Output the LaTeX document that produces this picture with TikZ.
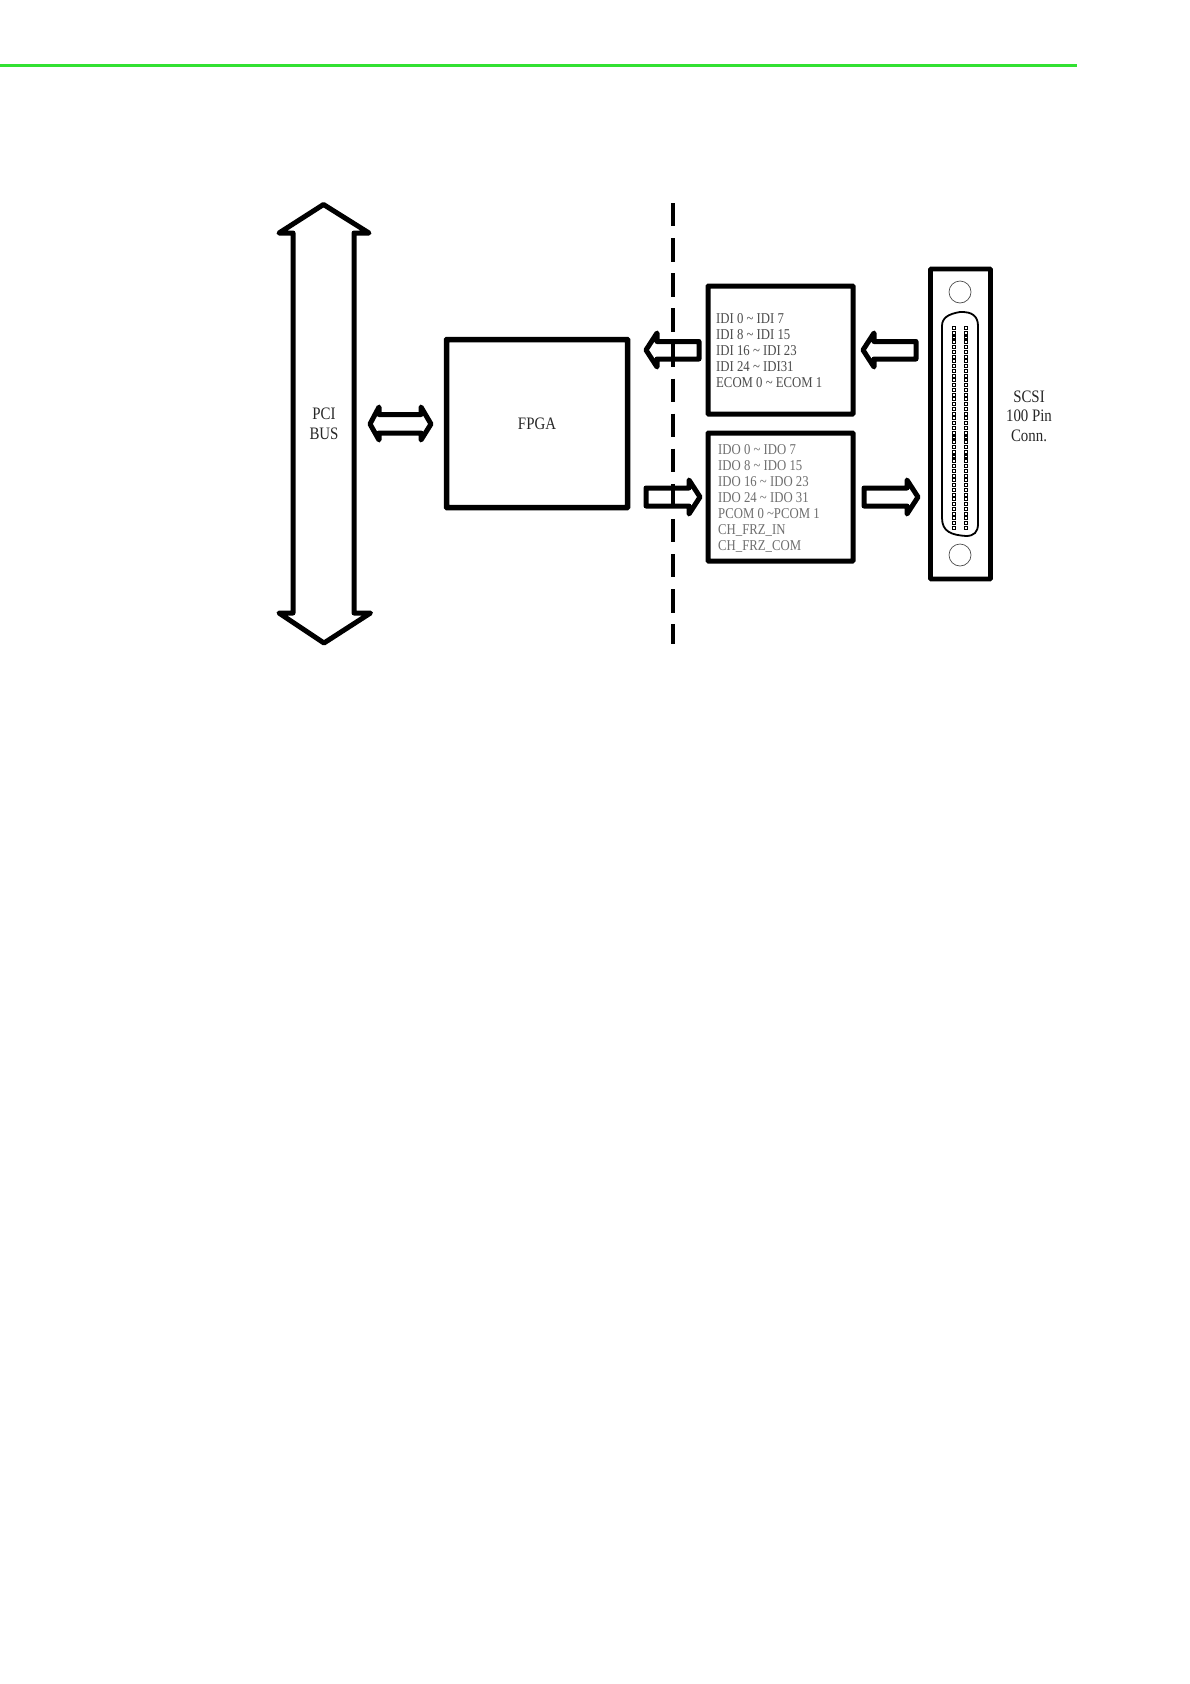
\documentclass[tikz,border=0pt]{standalone}
\usepackage{fontspec}
\setmainfont{Liberation Serif}
\newfontfamily\narrowserif[FakeStretch=0.85]{Liberation Serif}
\definecolor{rulegreen}{RGB}{50,225,50}
\definecolor{lbl}{RGB}{75,75,75}
\definecolor{lblb}{RGB}{110,110,110}
\tikzset{
  box/.style={draw=black,line width=5pt,fill=none,rounded corners=0.6pt,inner sep=0pt,outer sep=0pt,anchor=north west},
  blockarrow/.style={draw=black,line width=5pt,fill=white,line join=round,line cap=round},
  bigarrow/.style={draw=black,line width=5pt,line join=round,line cap=round},
  divider/.style={draw=black,line width=3.8pt,dash pattern=on 23.4pt off 11.7pt},
  hole/.style={draw=black!70,line width=.7pt,circle,minimum size=22pt,inner sep=0pt},
  pin/.style={draw=black,line width=1.1pt},
  lista/.style={inner sep=0pt,anchor=base west,text=lbl,font=\narrowserif\fontsize{15}{16}\selectfont},
  listb/.style={inner sep=0pt,anchor=base west,text=lblb,font=\narrowserif\fontsize{15}{16}\selectfont},
  caption/.style={inner sep=0pt,anchor=base,text=black!85,font=\narrowserif\fontsize{17.5}{19}\selectfont}
}
\begin{document}
\begin{tikzpicture}[x=1pt,y=-1pt]
\useasboundingbox (0,0) rectangle (1190,1684);
% top rule
\coordinate (ruleL) at (0,65.7);
\coordinate (ruleR) at (1077,65.7);
\draw[rulegreen,line width=2.8pt] (ruleL) -- (ruleR);
% PCI bus arrow
\draw[bigarrow] (293,233) -- (279,233) -- (323.5,204.5) -- (369,233) -- (354,233)
  -- (354,613) -- (370.5,613) -- (324,643) -- (279,613) -- (293,613) -- cycle;
\node[caption] (pci) at (324,419) {PCI};
\node[caption] (bus) at (324,439) {BUS};
% PCI <-> FPGA
\draw[blockarrow] (370,424) -- (379,407) -- (379,414.5) -- (421,414.5) -- (421,407) -- (431,424)
  -- (421,440) -- (421,433) -- (379,433) -- (379,440) -- cycle;
% FPGA
\node[box,line width=5.5pt,minimum width=181pt,minimum height=168pt] (fpga) at (446.5,339.5) {};
\node[caption] (fpgatxt) at (537,429) {FPGA};
% small arrows
\draw[blockarrow] (646,350) -- (657,333) -- (657,341.5) -- (699,341.5) -- (699,359) -- (657,359) -- (657,367) -- cycle;
\draw[blockarrow] (700,497) -- (689,480) -- (689,488) -- (646,488) -- (646,506) -- (689,506) -- (689,514) -- cycle;
\draw[blockarrow] (863,350) -- (874,333) -- (874,341.5) -- (916,341.5) -- (916,359) -- (874,359) -- (874,367) -- cycle;
\draw[blockarrow] (918,497) -- (907,480) -- (907,488) -- (864,488) -- (864,506) -- (907,506) -- (907,514) -- cycle;
% isolation divider
\coordinate (divT) at (673,203);
\coordinate (divB) at (673,644);
\draw[divider] (divT) -- (divB);
% input / output boxes
\node[box,minimum width=145pt,minimum height=128pt] (inbox) at (708,286) {};
\node[box,minimum width=145pt,minimum height=128pt] (outbox) at (708,433) {};
\node[lista] (i1) at (716,323) {IDI 0 \char`\~\ IDI 7};
\node[lista] (i2) at (716,339) {IDI 8 \char`\~\ IDI 15};
\node[lista] (i3) at (716,355) {IDI 16 \char`\~\ IDI 23};
\node[lista] (i4) at (716,371) {IDI 24 \char`\~\ IDI31};
\node[lista] (i5) at (716,387) {ECOM 0 \char`\~\ ECOM 1};
\node[listb] (o1) at (718,454) {IDO 0 \char`\~\ IDO 7};
\node[listb] (o2) at (718,470) {IDO 8 \char`\~\ IDO 15};
\node[listb] (o3) at (718,486) {IDO 16 \char`\~\ IDO 23};
\node[listb] (o4) at (718,502) {IDO 24 \char`\~\ IDO 31};
\node[listb] (o5) at (718,518) {PCOM 0 \char`\~PCOM 1};
\node[listb] (o6) at (718,534) {CH\_FRZ\_IN};
\node[listb] (o7) at (718,550) {CH\_FRZ\_COM};
% connector
\node[box,line width=4.6pt,minimum width=60pt,minimum height=310pt] (conn) at (930.5,269) {};
\node[hole] (h1) at (960,292) {};
\node[hole] (h2) at (960,555) {};
\draw[black,line width=1.8pt] (942,326) .. controls (942,318) and (948,314) .. (960,312)
  .. controls (972,311.5) and (978,316) .. (978,326)
  -- (978,524) .. controls (978,532) and (974,536) .. (966,536)
  .. controls (952,535) and (942,532) .. (942,518) -- cycle;
\foreach \k in {0,...,42}{
  \pgfmathsetmacro{\py}{328+\k*4.76}
  \draw[pin] (952.5,\py-1.5) rectangle (955.5,\py+1.5);
  \draw[pin] (964.5,\py-1.5) rectangle (967.5,\py+1.5);
}
\node[caption] (c1) at (1029,402.5) {SCSI};
\node[caption] (c2) at (1029,421.5) {100 Pin};
\node[caption] (c3) at (1029,441) {Conn.};
\end{tikzpicture}
\end{document}
